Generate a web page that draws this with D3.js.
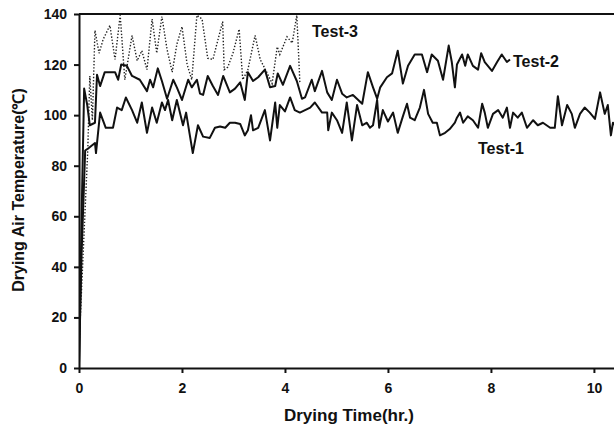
<!DOCTYPE html>
<html>
<head>
<meta charset="utf-8">
<script src="https://cdn.jsdelivr.net/npm/d3@7"></script>
<style>
  body { margin: 0; background: #fff; }
  text { font-family: "Liberation Sans", Arial, sans-serif; font-weight: bold; fill: #111; }
</style>
</head>
<body>
<svg id="chart" width="614" height="428"></svg>
<script>
// drying time (hr.) and drying air temperature (℃)
const test1 = [
  [0,2],[0.05,45],[0.12,86],[0.19,87],[0.31,89],[0.33,85],[0.41,101],[0.52,95],[0.66,95],[0.74,103],
  [0.83,102],[0.91,107],[1.03,102],[1.13,97],[1.22,105],[1.32,93],[1.42,103],[1.51,97],[1.61,105],[1.67,102],
  [1.73,106],[1.81,98],[1.90,106],[2.02,96],[2.08,101],[2.21,85],[2.31,96],[2.41,91.5],[2.54,91],[2.64,95],
  [2.74,95.5],[2.84,95],[2.93,97],[3.03,97],[3.13,96.5],[3.22,92],[3.28,94],[3.34,100],[3.38,94],[3.48,95],
  [3.61,102],[3.71,90],[3.81,105],[3.85,95],[3.90,104],[4.0,101.5],[4.10,107],[4.19,102],[4.29,101],[4.49,103],
  [4.58,105],[4.72,101],[4.82,101],[4.84,94],[4.91,101],[5.01,98],[5.11,93],[5.20,105],[5.30,90],[5.40,104],
  [5.50,96],[5.59,97],[5.65,95],[5.71,96],[5.79,106],[5.83,95],[5.90,102],[6.0,97.5],[6.10,101],[6.19,93],
  [6.29,99.5],[6.37,104.5],[6.43,99],[6.52,98],[6.62,103],[6.70,110],[6.78,100.5],[6.87,97],[6.95,97],[7.01,92],
  [7.11,93],[7.20,94.5],[7.30,97],[7.34,99],[7.40,101],[7.46,97],[7.55,99.5],[7.65,98],[7.75,95],[7.83,104.5],
  [7.88,101],[7.94,95],[8.04,100.5],[8.14,102],[8.23,99],[8.31,103],[8.37,95],[8.43,101],[8.52,99],[8.60,101],
  [8.70,95],[8.82,98],[8.91,96],[9.01,97],[9.15,95],[9.24,95],[9.30,107.5],[9.38,96],[9.48,104],[9.57,100.5],
  [9.63,95],[9.73,100.5],[9.82,103],[9.92,101],[10.02,98.5],[10.12,109],[10.21,100.5],[10.27,104],[10.33,92],[10.37,97],
  [10.45,95]
];

const test2 = [
  [0,0],[0.06,70],[0.10,110.5],[0.16,104],[0.21,96],[0.31,97],[0.35,116],[0.41,111.5],[0.50,117],[0.70,117],
  [0.76,114],[0.82,120],[0.93,119.5],[1.03,115.5],[1.18,114],[1.32,109.5],[1.38,114],[1.44,111],[1.53,118.5],[1.61,113.5],
  [1.71,106.5],[1.83,114],[1.90,111],[2.0,106],[2.12,114],[2.19,111],[2.29,114],[2.35,108.5],[2.41,108],[2.50,115.5],
  [2.60,111.5],[2.70,108],[2.80,115.5],[2.93,109],[3.03,110.5],[3.13,113],[3.22,106],[3.28,117],[3.38,113.5],[3.48,115],
  [3.61,118],[3.71,111],[3.81,111.5],[3.86,116.5],[3.96,112],[4.10,119.5],[4.23,113.5],[4.33,106.5],[4.39,107],[4.52,114],
  [4.58,109.5],[4.72,117.5],[4.82,109],[4.91,106],[5.01,114],[5.11,108.5],[5.20,107],[5.32,108],[5.50,104.5],[5.61,117],
  [5.71,111],[5.79,106.5],[5.85,111],[5.98,115],[6.08,116.5],[6.19,125.5],[6.29,112.5],[6.39,119.5],[6.52,124],[6.66,124],
  [6.76,117],[6.85,124],[6.97,121.5],[7.07,114],[7.18,127.5],[7.24,121],[7.30,111],[7.34,120],[7.44,124],[7.50,119.5],
  [7.55,124],[7.65,119.5],[7.75,118],[7.81,124.5],[7.88,121],[8.02,117.5],[8.12,121],[8.21,124],[8.31,121],[8.37,122]
];

const test3 = [
  [0,8],[0.08,45],[0.17,86],[0.21,115.5],[0.26,98],[0.31,133.5],[0.39,124.5],[0.47,130],[0.60,135.5],[0.70,122],
  [0.80,139.5],[0.89,114],[1.03,131.5],[1.13,121.5],[1.22,125.5],[1.32,118],[1.42,138],[1.51,124.5],[1.61,139],[1.71,126],
  [1.81,117],[1.90,128],[2.0,135],[2.10,120],[2.19,114],[2.29,139.5],[2.39,138],[2.50,122.5],[2.60,122],[2.79,137],
  [2.82,118],[2.89,119],[2.99,124.5],[3.11,134],[3.18,114],[3.28,118],[3.42,131.5],[3.52,122],[3.67,116],[3.75,112.5],
  [3.85,127],[3.90,124],[4.04,131],[4.14,128.5],[4.23,139.5],[4.29,112.5]
];

const xTicks = [0, 2, 4, 6, 8, 10];
const yTicks = [0, 20, 40, 60, 80, 100, 120, 140];

const svg = d3.select("#chart");

const x = d3.scaleLinear().domain([0, 10.39]).range([79, 614]);
const y = d3.scaleLinear().domain([0, 140]).range([368, 14]);

svg.append("defs").append("clipPath").attr("id", "plot")
  .append("rect")
  .attr("x", x(0)).attr("y", y(140) - 1)
  .attr("width", x(10.39) - x(0)).attr("height", y(0) - y(140) + 1);

const line = d3.line().x(d => x(d[0])).y(d => y(d[1]));

const plot = svg.append("g").attr("clip-path", "url(#plot)");

plot.append("path").datum(test3)
  .attr("fill", "none").attr("stroke", "#222").attr("stroke-width", 1.4)
  .attr("stroke-dasharray", "1.4,1.8")
  .attr("d", line);

plot.append("path").datum(test2)
  .attr("fill", "none").attr("stroke", "#111").attr("stroke-width", 2)
  .attr("stroke-linejoin", "round")
  .attr("d", line);

plot.append("path").datum(test1)
  .attr("fill", "none").attr("stroke", "#111").attr("stroke-width", 2)
  .attr("stroke-linejoin", "round")
  .attr("d", line);

// axes
const xAxis = svg.append("g")
  .attr("transform", `translate(0,${y(0)})`)
  .call(d3.axisBottom(x).tickValues(xTicks).tickFormat(d3.format("d"))
    .tickSize(5).tickSizeOuter(0).tickPadding(10));

const yAxis = svg.append("g")
  .attr("transform", `translate(${x(0)},0)`)
  .call(d3.axisLeft(y).tickValues(yTicks).tickSize(5).tickSizeOuter(0).tickPadding(7));

[xAxis, yAxis].forEach(a => {
  a.selectAll("path, line").attr("stroke", "#111").attr("stroke-width", 2);
  a.selectAll("text").style("font-size", "14px").attr("fill", "#111");
});

// top frame line
svg.append("line")
  .attr("x1", x(0)).attr("x2", 614)
  .attr("y1", y(140)).attr("y2", y(140))
  .attr("stroke", "#111").attr("stroke-width", 2);

// titles
svg.append("text")
  .attr("x", 349).attr("y", 421)
  .attr("text-anchor", "middle")
  .style("font-size", "17px")
  .text("Drying Time(hr.)");

svg.append("text")
  .attr("transform", "translate(24,190) rotate(-90)")
  .attr("text-anchor", "middle")
  .style("font-size", "16px")
  .text("Drying Air Temperature(℃)");

// series labels
svg.append("text").attr("x", 312).attr("y", 37).style("font-size", "16px").text("Test-3");
svg.append("text").attr("x", 513).attr("y", 67).style("font-size", "16px").text("Test-2");
svg.append("text").attr("x", 478).attr("y", 154).style("font-size", "16px").text("Test-1");
</script>
</body>
</html>
